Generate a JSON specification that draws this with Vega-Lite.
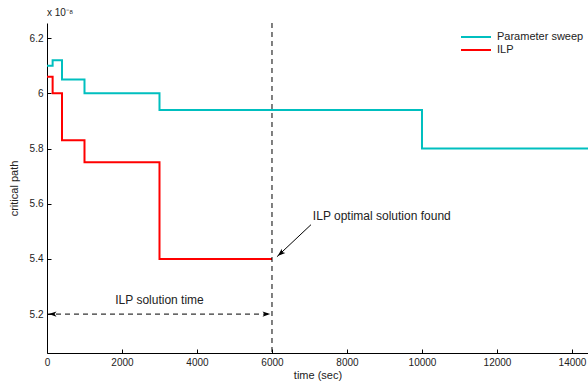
{
  "$schema": "https://vega.github.io/schema/vega-lite/v6.json",
  "autosize": {"type": "none"},
  "padding": {"left": 47, "top": 23, "right": 0, "bottom": 34},
  "width": 541,
  "height": 330,
  "background": "white",
  "config": {
    "view": {"stroke": null},
    "font": "Liberation Sans",
    "axis": {"labelFont": "Liberation Sans", "titleFont": "Liberation Sans", "titleFontWeight": "normal", "grid": false, "domainColor": "black", "tickColor": "black", "labelColor": "#222", "titleColor": "#222"}
  },
  "title": {"text": "x 10⁻⁸", "anchor": "start", "frame": "group", "fontSize": 10, "fontWeight": "normal", "color": "#222", "offset": 5, "font": "Liberation Sans"},
  "datasets": {
    "series": [
      {"t": 0, "v": 6.1, "s": "Parameter sweep"},
      {"t": 150, "v": 6.12, "s": "Parameter sweep"},
      {"t": 400, "v": 6.05, "s": "Parameter sweep"},
      {"t": 1000, "v": 6.0, "s": "Parameter sweep"},
      {"t": 3000, "v": 5.94, "s": "Parameter sweep"},
      {"t": 10000, "v": 5.8, "s": "Parameter sweep"},
      {"t": 14427, "v": 5.8, "s": "Parameter sweep"},
      {"t": 0, "v": 6.06, "s": "ILP"},
      {"t": 150, "v": 6.0, "s": "ILP"},
      {"t": 400, "v": 5.83, "s": "ILP"},
      {"t": 1000, "v": 5.75, "s": "ILP"},
      {"t": 3000, "v": 5.4, "s": "ILP"},
      {"t": 6000, "v": 5.4, "s": "ILP"}
    ]
  },
  "layer": [
    {
      "data": {"name": "series"},
      "mark": {"type": "line", "interpolate": "step-after", "strokeWidth": 2, "clip": true},
      "encoding": {
        "x": {"field": "t", "type": "quantitative", "scale": {"domain": [0, 14427], "nice": false, "zero": false},
          "axis": {"title": "time (sec)", "values": [0, 2000, 4000, 6000, 8000, 10000, 12000, 14000], "format": "d", "tickSize": -4, "labelPadding": 8, "labelFontSize": 10, "titleFontSize": 11, "titlePadding": 2, "labelFlush": false}},
        "y": {"field": "v", "type": "quantitative", "scale": {"domain": [5.059, 6.255], "nice": false, "zero": false},
          "axis": {"title": "critical path", "values": [5.2, 5.4, 5.6, 5.8, 6.0, 6.2], "format": "~g", "tickSize": -4, "labelPadding": 8, "labelFontSize": 10, "titleFontSize": 11, "titlePadding": 10}},
        "color": {"field": "s", "type": "nominal", "sort": ["Parameter sweep", "ILP"],
          "scale": {"domain": ["Parameter sweep", "ILP"], "range": ["#00BFBF", "#FF0000"]},
          "legend": {"title": null, "orient": "none", "legendX": 423, "legendY": 8, "padding": 0, "symbolType": "M-3,0H3", "symbolSize": 100, "symbolStrokeWidth": 2, "labelFontSize": 11, "labelColor": "#222", "rowPadding": 2, "labelOffset": 15}}
      }
    },
    {
      "data": {"values": [{"t": 6000}]},
      "mark": {"type": "rule", "color": "black", "strokeWidth": 1, "strokeDash": [5, 4]},
      "encoding": {"x": {"field": "t", "type": "quantitative"}}
    },
    {
      "data": {"values": [{"t0": 0, "t1": 6000, "v": 5.2}]},
      "mark": {"type": "rule", "color": "black", "strokeWidth": 1, "strokeDash": [5, 4]},
      "encoding": {
        "x": {"field": "t0", "type": "quantitative"},
        "x2": {"field": "t1"},
        "y": {"field": "v", "type": "quantitative"}
      }
    },
    {
      "data": {"values": [{"t": 150, "v": 5.2, "a": 270}, {"t": 5850, "v": 5.2, "a": 90}]},
      "mark": {"type": "point", "shape": "M0,-1L0.7,1L0,0.5L-0.7,1Z", "filled": true, "color": "black", "size": 60, "opacity": 1},
      "encoding": {
        "x": {"field": "t", "type": "quantitative"},
        "y": {"field": "v", "type": "quantitative"},
        "angle": {"field": "a", "type": "quantitative", "scale": null}
      }
    },
    {
      "data": {"values": [{"t0": 7040, "v0": 5.524, "t1": 6133, "v1": 5.408}]},
      "mark": {"type": "rule", "color": "black", "strokeWidth": 1},
      "encoding": {
        "x": {"field": "t0", "type": "quantitative"},
        "y": {"field": "v0", "type": "quantitative"},
        "x2": {"field": "t1"},
        "y2": {"field": "v1"}
      }
    },
    {
      "data": {"values": [{"t": 6230, "v": 5.42, "a": 229}]},
      "mark": {"type": "point", "shape": "M0,-1L0.7,1L0,0.5L-0.7,1Z", "filled": true, "color": "black", "size": 60, "opacity": 1},
      "encoding": {
        "x": {"field": "t", "type": "quantitative"},
        "y": {"field": "v", "type": "quantitative"},
        "angle": {"field": "a", "type": "quantitative", "scale": null}
      }
    },
    {
      "data": {"values": [{"t": 3000, "v": 5.251, "label": "ILP solution time"}]},
      "mark": {"type": "text", "fontSize": 12, "color": "#222", "baseline": "middle", "align": "center"},
      "encoding": {
        "x": {"field": "t", "type": "quantitative"},
        "y": {"field": "v", "type": "quantitative"},
        "text": {"field": "label"}
      }
    },
    {
      "data": {"values": [{"t": 7090, "v": 5.556, "label": "ILP optimal solution found"}]},
      "mark": {"type": "text", "fontSize": 12, "color": "#222", "baseline": "middle", "align": "left"},
      "encoding": {
        "x": {"field": "t", "type": "quantitative"},
        "y": {"field": "v", "type": "quantitative"},
        "text": {"field": "label"}
      }
    }
  ]
}
